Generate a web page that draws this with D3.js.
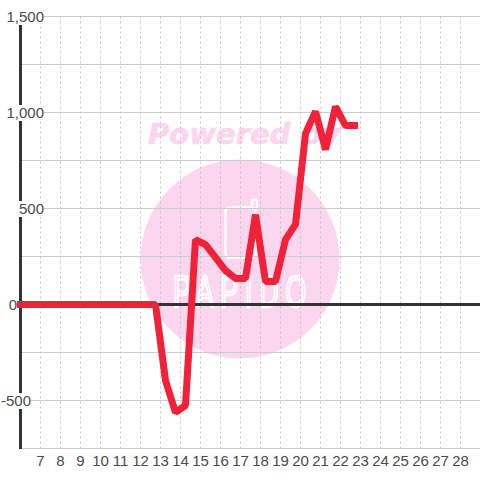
<!DOCTYPE html>
<html>
<head>
<meta charset="utf-8">
<script src="https://cdn.jsdelivr.net/npm/d3@7"></script>
<style>
  html, body { margin: 0; padding: 0; background: #fff; }
  svg { display: block; }
  text { font-family: "Liberation Sans", sans-serif; }
</style>
</head>
<body>
<svg></svg>
<script>
var svgWidth = 480;
var svgHeight = 480;

// values
var days = [5.75, 6.25, 6.75, 7.25, 7.75, 8.25, 8.75, 9.25, 9.75, 10.25, 10.75, 11.25, 11.75, 12.25, 12.75,
    13.25, 13.75, 14.25, 14.75, 15.25, 15.75, 16.25, 16.75, 17.25, 17.75, 18.25, 18.75, 19.25, 19.75,
    20.25, 20.75, 21.25, 21.75, 22.25, 22.875];
var values = [0, 0, 0, 0, 0, 0, 0, 0, 0, 0, 0, 0, 0, 0, 0,
    -396, -562, -525, 338, 312, 245, 177, 135, 135, 468, 120, 120, 338, 417,
    890, 1005, 807, 1031, 932, 932];
var xTicks = d3.range(7, 29);
var yLabelled = ["1,500", "1,000", "500", "0", "-500"];
var yLabelValues = [1500, 1000, 500, 0, -500];
var yGrid = [1500, 1250, 1000, 750, 500, 250, -250, -500, -750];

var x = d3.scaleLinear().domain([6, 29]).range([20.5, 480.5]);
var y = d3.scaleLinear().domain([-750, 1500]).range([448.5, 16.5]);

var svg = d3.select("svg")
    .attr("width", svgWidth)
    .attr("height", svgHeight);

// watermark under everything
var mark = svg.append("g");
mark.append("circle")
    .attr("cx", 240).attr("cy", 259).attr("r", 99.5)
    .attr("fill", "#fcd6ee");
mark.append("text")
    .attr("x", 148).attr("y", 144)
    .attr("font-size", 29)
    .attr("font-weight", "bold")
    .attr("font-style", "italic")
    .style("font-family", "DejaVu Sans")
    .attr("fill", "#fcd6ee")
    .attr("stroke", "#fcd6ee")
    .attr("stroke-width", 0.7)
    .text("Powered by");
mark.append("rect")
    .attr("x", 225.5).attr("y", 207.5).attr("width", 30).attr("height", 50).attr("rx", 4)
    .attr("fill", "none").attr("stroke", "#fff").attr("stroke-width", 2.5);
mark.append("path")
    .attr("d", "M252 208V201Q255 198 257 201V208")
    .attr("fill", "none").attr("stroke", "#fff").attr("stroke-width", 2.5);
mark.append("text")
    .attr("transform", "translate(173,307) scale(0.6,1)")
    .attr("font-size", 45)
    .attr("textLength", 222)
    .attr("lengthAdjust", "spacing")
    .attr("fill", "none")
    .attr("stroke", "#fff")
    .attr("stroke-width", 2.5)
    .text("PAPIDO");

// grid
svg.append("g").selectAll("line")
    .data(yGrid)
    .enter()
    .append("line")
    .attr("x1", 20).attr("x2", svgWidth)
    .attr("y1", function(d) { return y(d); })
    .attr("y2", function(d) { return y(d); })
    .attr("stroke", "#ccc")
    .attr("stroke-width", 1);

svg.append("g").selectAll("line")
    .data(xTicks)
    .enter()
    .append("line")
    .attr("x1", function(d) { return x(d); })
    .attr("x2", function(d) { return x(d); })
    .attr("y1", y(1500)).attr("y2", y(-750))
    .attr("stroke", "#c4c4c4")
    .attr("stroke-dasharray", "2,3");

// axis lines
svg.append("line")
    .attr("x1", x(6)).attr("x2", x(6))
    .attr("y1", 24).attr("y2", 449)
    .attr("stroke", "#333").attr("stroke-width", 3);
svg.append("line")
    .attr("x1", x(6)).attr("x2", svgWidth)
    .attr("y1", y(0)).attr("y2", y(0))
    .attr("stroke", "#333").attr("stroke-width", 3);

// series
var line = d3.line()
    .x(function(d, i) { return x(days[i]); })
    .y(function(d) { return y(d); });
svg.append("path")
    .attr("d", line(values))
    .attr("fill", "none")
    .attr("stroke", "#f02138")
    .attr("stroke-width", 7)
    .attr("stroke-linejoin", "bevel");

// y labels have a white box behind them that cuts the axis line
var yLabels = svg.append("g").selectAll("g")
    .data(yLabelValues)
    .enter()
    .append("g");
var yTexts = yLabels.append("text")
    .attr("x", function(d) { return d === 0 ? 17 : d === -500 ? 31 : 44; })
    .attr("y", function(d) { return y(d) + 5.5; })
    .attr("text-anchor", "end")
    .attr("font-size", 15)
    .attr("fill", "#4a4a4a")
    .text(function(d, i) { return yLabelled[i]; });
yTexts.each(function(d) {
    var box = this.getBBox();
    d3.select(this.parentNode).insert("rect", "text")
        .attr("x", box.x).attr("y", box.y + 1)
        .attr("width", box.width).attr("height", box.height - 1)
        .attr("fill", "#fff");
});

// x labels
svg.append("g").selectAll("text")
    .data(xTicks)
    .enter()
    .append("text")
    .attr("x", function(d) { return x(d); })
    .attr("y", 466)
    .attr("text-anchor", "middle")
    .attr("font-size", 15)
    .attr("fill", "#4a4a4a")
    .text(function(d) { return d; });
</script>
</body>
</html>
